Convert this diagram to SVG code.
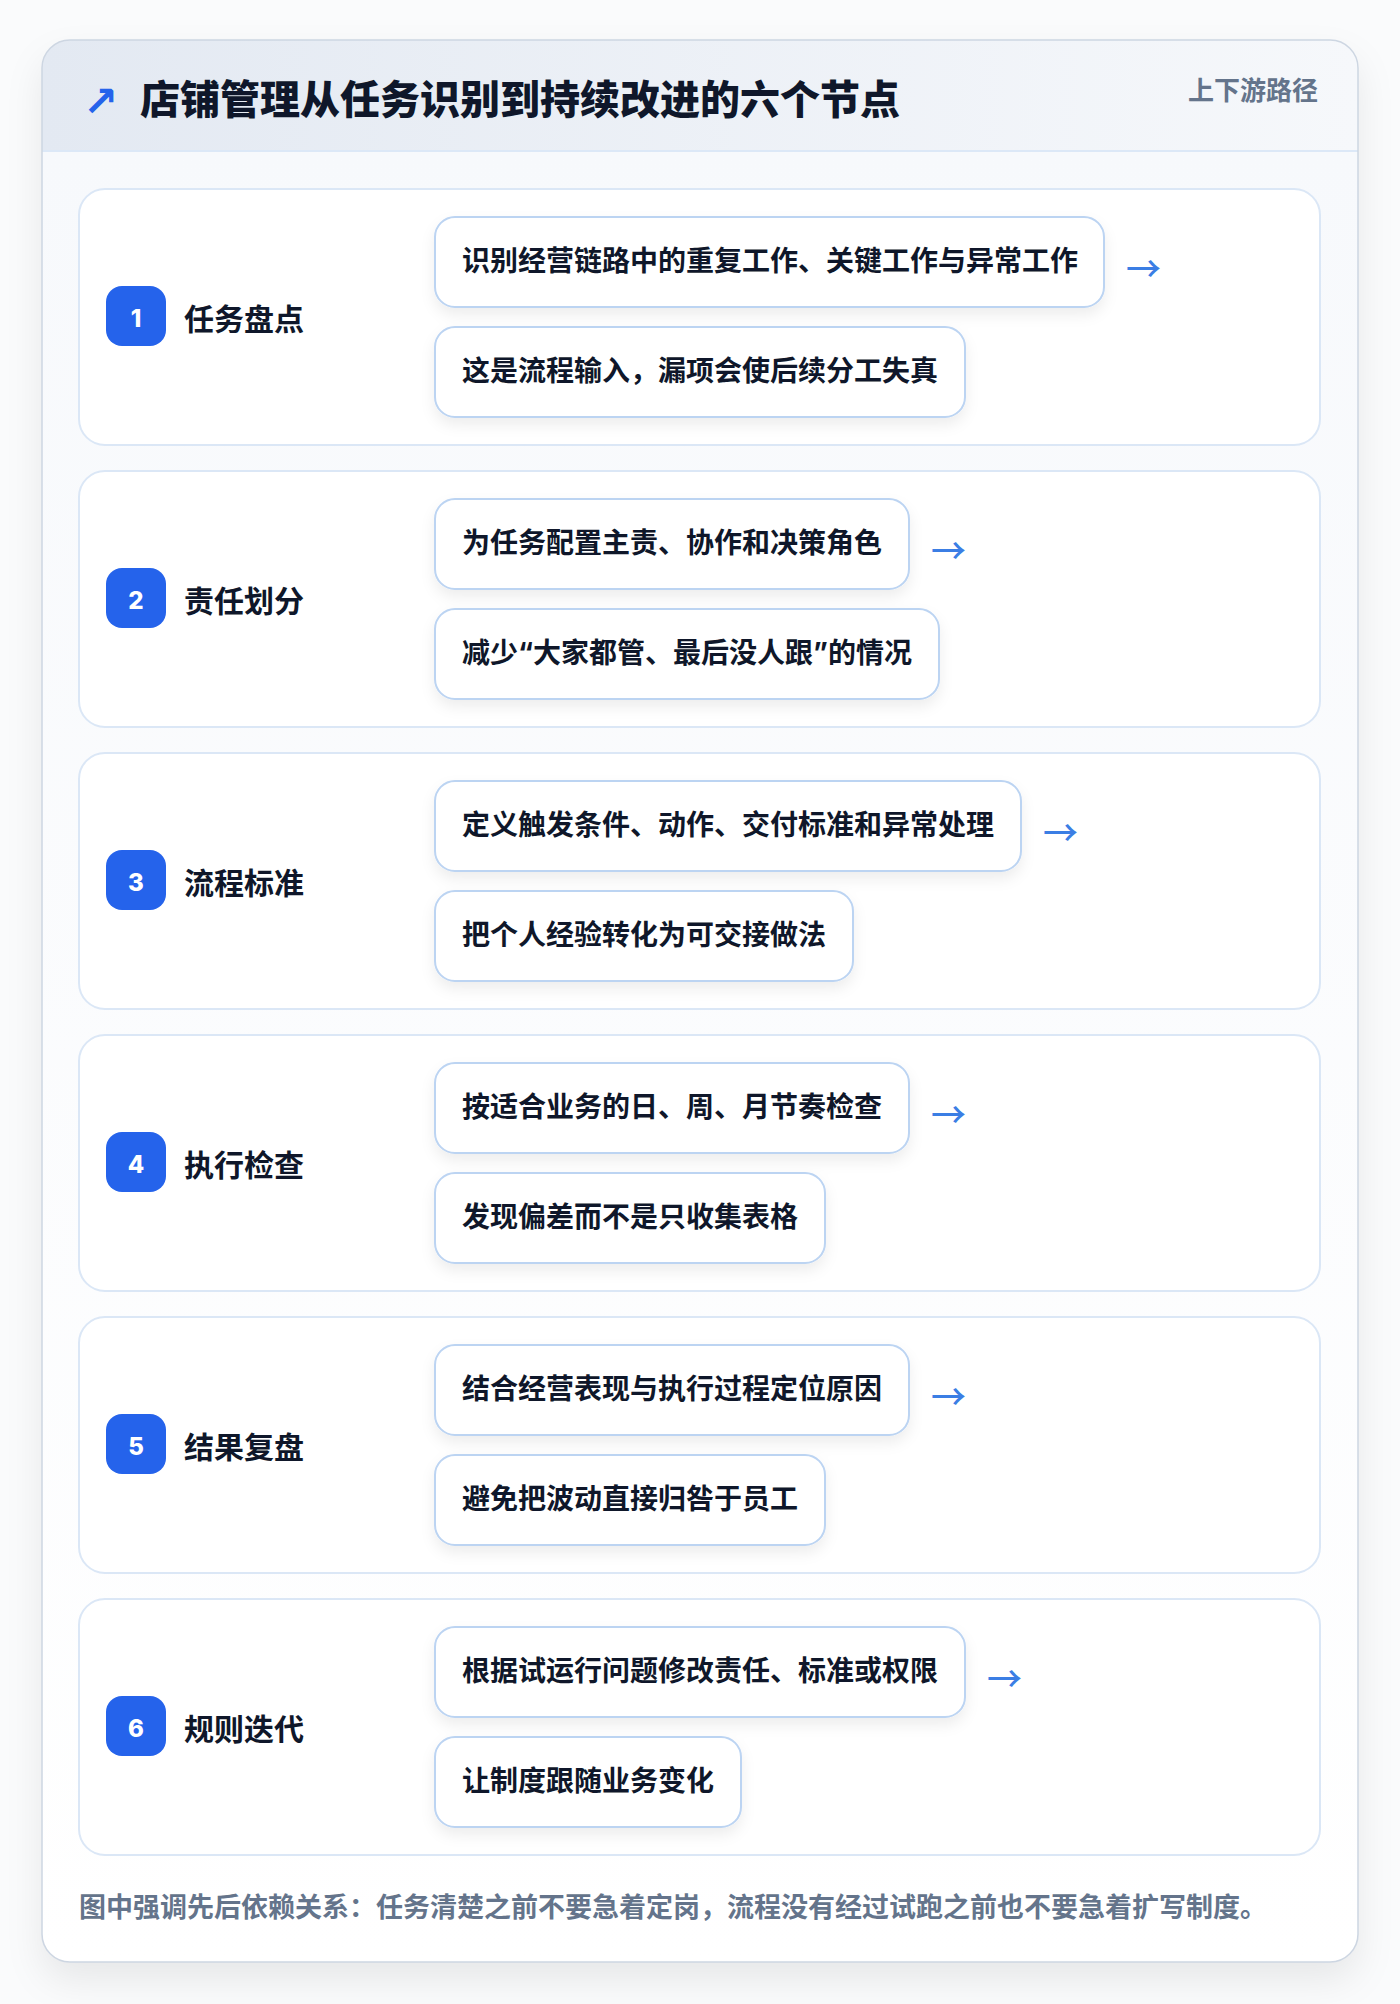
<svg xmlns="http://www.w3.org/2000/svg" width="1400" height="2004" viewBox="0 0 1400 2004">
<defs>
<style>
.t{font-family:"Inter","Noto Sans CJK SC",sans-serif;font-weight:700;}
.title{font-size:40px;fill:#0f172a;font-weight:800;}
.sub{font-size:26px;fill:#64748b;}
.card{fill:#ffffff;stroke:#dbe7f6;stroke-width:2;}
.badge{fill:#2563eb;}
.num{font-size:24px;fill:#ffffff;font-weight:800;}
.lbl{font-size:30px;fill:#0f172a;}
.box{fill:#ffffff;stroke:#bcd4f2;stroke-width:2;}
.btx{font-size:28px;fill:#0f172a;}
.arr{font-family:"Noto Sans CJK SC",sans-serif;font-size:35px;fill:#3b7ee4;font-weight:500;}
.foot{font-size:27px;fill:#64748b;}
</style>
<linearGradient id="hdr" x1="0" y1="0" x2="1" y2="0">
<stop offset="0" stop-color="#e3e9f2"/>
<stop offset="1" stop-color="#f6f8fb"/>
</linearGradient>
<linearGradient id="body" x1="0" y1="0" x2="0" y2="1">
<stop offset="0" stop-color="#f7f9fc"/>
<stop offset="1" stop-color="#ffffff"/>
</linearGradient>
<clipPath id="outerClip"><rect x="42" y="40" width="1316" height="1922" rx="28"/></clipPath>
<filter id="cardShadow" x="-10%" y="-10%" width="120%" height="120%">
<feDropShadow dx="0" dy="18" stdDeviation="18" flood-color="#0f172a" flood-opacity="0.08"/>
</filter>
<filter id="boxShadow" x="-10%" y="-20%" width="120%" height="160%">
<feDropShadow dx="0" dy="7" stdDeviation="7" flood-color="#0f172a" flood-opacity="0.07"/>
</filter>
</defs>
<rect width="1400" height="2004" fill="#fafbfc"/>
<g id="frame">
<rect x="42" y="40" width="1316" height="1922" rx="28" fill="#ffffff" filter="url(#cardShadow)"/>
<g clip-path="url(#outerClip)">
<rect x="42" y="150" width="1316" height="1812" fill="url(#body)"/>
<rect x="42" y="40" width="1316" height="111" fill="url(#hdr)"/>
<line x1="42" y1="151" x2="1358" y2="151" stroke="#dce8f7" stroke-width="2"/>
</g>
<rect x="42" y="40" width="1316" height="1922" rx="28" fill="none" stroke="#cdd6e2" stroke-width="1.5"/>
</g>
<g id="header">
<text x="83" y="116" font-size="42" fill="#2563eb" style="font-family:'DejaVu Sans',sans-serif;font-weight:700">↗</text>
<text class="t title" x="140" y="114">店铺管理从任务识别到持续改进的六个节点</text>
<text class="t sub" x="1318" y="100" text-anchor="end">上下游路径</text>
</g>
<g id="step1">
<rect class="card" x="79" y="189" width="1241" height="256" rx="26"/>
<rect class="badge" x="106" y="286" width="60" height="60" rx="16"/>
<text class="t num" x="136" y="327" text-anchor="middle">1</text>
<text class="t lbl" x="184" y="330">任务盘点</text>
<g filter="url(#boxShadow)">
<rect class="box" x="435" y="217" width="669" height="90" rx="20"/>
<rect class="box" x="435" y="327" width="530" height="90" rx="20"/>
</g>
<text class="t btx" x="462" y="271">识别经营链路中的重复工作、关键工作与异常工作</text>
<text class="t btx" x="462" y="381">这是流程输入，漏项会使后续分工失真</text>
</g>
<g id="step2">
<rect class="card" x="79" y="471" width="1241" height="256" rx="26"/>
<rect class="badge" x="106" y="568" width="60" height="60" rx="16"/>
<text class="t num" x="136" y="609" text-anchor="middle">2</text>
<text class="t lbl" x="184" y="612">责任划分</text>
<g filter="url(#boxShadow)">
<rect class="box" x="435" y="499" width="474" height="90" rx="20"/>
<rect class="box" x="435" y="609" width="504" height="90" rx="20"/>
</g>
<text class="t btx" x="462" y="553">为任务配置主责、协作和决策角色</text>
<text class="t btx" x="462" y="663">减少“大家都管、最后没人跟”的情况</text>
</g>
<g id="step3">
<rect class="card" x="79" y="753" width="1241" height="256" rx="26"/>
<rect class="badge" x="106" y="850" width="60" height="60" rx="16"/>
<text class="t num" x="136" y="891" text-anchor="middle">3</text>
<text class="t lbl" x="184" y="894">流程标准</text>
<g filter="url(#boxShadow)">
<rect class="box" x="435" y="781" width="586" height="90" rx="20"/>
<rect class="box" x="435" y="891" width="418" height="90" rx="20"/>
</g>
<text class="t btx" x="462" y="835">定义触发条件、动作、交付标准和异常处理</text>
<text class="t btx" x="462" y="945">把个人经验转化为可交接做法</text>
</g>
<g id="step4">
<rect class="card" x="79" y="1035" width="1241" height="256" rx="26"/>
<rect class="badge" x="106" y="1132" width="60" height="60" rx="16"/>
<text class="t num" x="136" y="1173" text-anchor="middle">4</text>
<text class="t lbl" x="184" y="1176">执行检查</text>
<g filter="url(#boxShadow)">
<rect class="box" x="435" y="1063" width="474" height="90" rx="20"/>
<rect class="box" x="435" y="1173" width="390" height="90" rx="20"/>
</g>
<text class="t btx" x="462" y="1117">按适合业务的日、周、月节奏检查</text>
<text class="t btx" x="462" y="1227">发现偏差而不是只收集表格</text>
</g>
<g id="step5">
<rect class="card" x="79" y="1317" width="1241" height="256" rx="26"/>
<rect class="badge" x="106" y="1414" width="60" height="60" rx="16"/>
<text class="t num" x="136" y="1455" text-anchor="middle">5</text>
<text class="t lbl" x="184" y="1458">结果复盘</text>
<g filter="url(#boxShadow)">
<rect class="box" x="435" y="1345" width="474" height="90" rx="20"/>
<rect class="box" x="435" y="1455" width="390" height="90" rx="20"/>
</g>
<text class="t btx" x="462" y="1399">结合经营表现与执行过程定位原因</text>
<text class="t btx" x="462" y="1509">避免把波动直接归咎于员工</text>
</g>
<g id="step6">
<rect class="card" x="79" y="1599" width="1241" height="256" rx="26"/>
<rect class="badge" x="106" y="1696" width="60" height="60" rx="16"/>
<text class="t num" x="136" y="1737" text-anchor="middle">6</text>
<text class="t lbl" x="184" y="1740">规则迭代</text>
<g filter="url(#boxShadow)">
<rect class="box" x="435" y="1627" width="530" height="90" rx="20"/>
<rect class="box" x="435" y="1737" width="306" height="90" rx="20"/>
</g>
<text class="t btx" x="462" y="1681">根据试运行问题修改责任、标准或权限</text>
<text class="t btx" x="462" y="1791">让制度跟随业务变化</text>
</g>
<g id="connectors">
<text class="arr" x="1126" y="282">→</text>
<text class="arr" x="931" y="564">→</text>
<text class="arr" x="1043" y="846">→</text>
<text class="arr" x="931" y="1128">→</text>
<text class="arr" x="931" y="1410">→</text>
<text class="arr" x="987" y="1692">→</text>
</g>
<g id="footer">
<text class="t foot" x="79" y="1917">图中强调先后依赖关系：任务清楚之前不要急着定岗，流程没有经过试跑之前也不要急着扩写制度。</text>
</g>
</svg>
